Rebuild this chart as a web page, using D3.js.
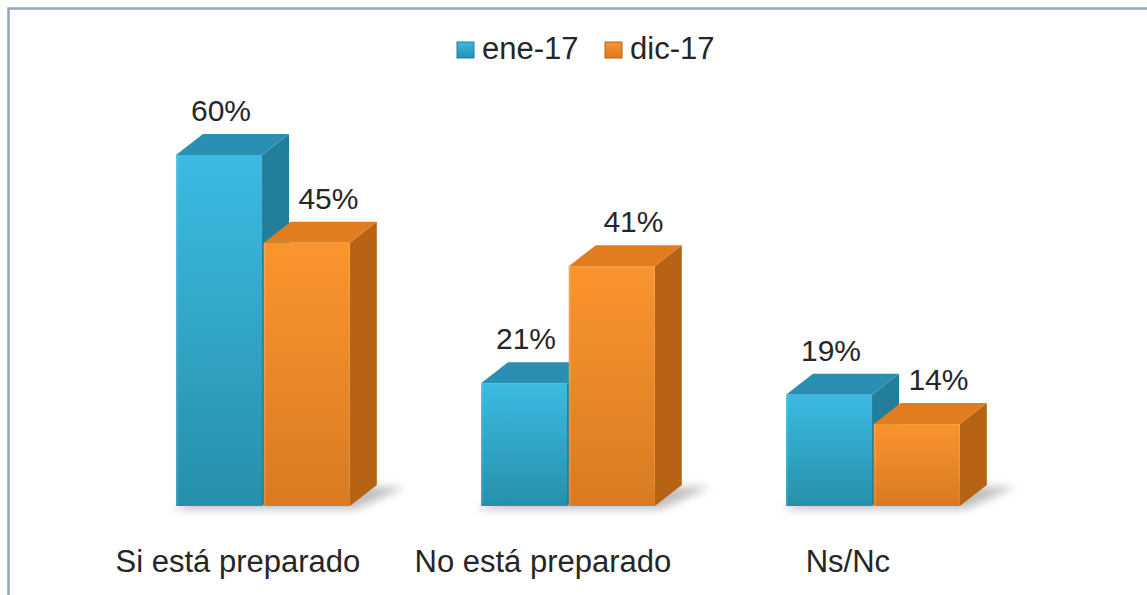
<!DOCTYPE html>
<html>
<head>
<meta charset="utf-8">
<script src="https://cdn.jsdelivr.net/npm/d3@7"></script>
<style>
  html, body { margin: 0; padding: 0; background: #fff; }
  text { font-family: Arial, "Liberation Sans", sans-serif; fill: #262626; }
</style>
</head>
<body>
<svg id="chart"></svg>
<script>
// chart data
var categories = ["Si está preparado", "No está preparado", "Ns/Nc"];
var seriesNames = ["ene-17", "dic-17"];
var ene17 = [60, 21, 19];
var dic17 = [45, 41, 14];

var width = 1147, height = 595;
var depthX = 27, depthY = 21;

var palette = {
  "ene-17": {top: "#2b8fb3", side: "#237e9c", front0: "#3cbae2", front1: "#2690ab"},
  "dic-17": {top: "#e27d1f", side: "#b66314", front0: "#fa942f", front1: "#d97a22"}
};

var svg = d3.select("#chart")
            .attr("width", width)
            .attr("height", height);

var defs = svg.append("defs");

seriesNames.forEach(function(s, i) {
  var g = defs.append("linearGradient")
              .attr("id", "grad" + i)
              .attr("x1", 0).attr("y1", 0).attr("x2", 0).attr("y2", 1);
  g.append("stop").attr("offset", "0%").attr("stop-color", palette[s].front0);
  g.append("stop").attr("offset", "100%").attr("stop-color", palette[s].front1);
});

defs.append("filter")
    .attr("id", "soft")
    .attr("x", "-20%").attr("y", "-50%").attr("width", "140%").attr("height", "200%")
    .append("feGaussianBlur")
    .attr("stdDeviation", 4);

// outer frame (runs off the right and bottom edge)
svg.append("rect")
   .attr("x", 8.5)
   .attr("y", 8.5)
   .attr("width", 1300)
   .attr("height", 800)
   .attr("fill", "none")
   .attr("stroke", "#94a5c0")
   .attr("stroke-width", 2.5);

var x = d3.scaleBand()
          .domain(categories)
          .range([110.4, 1025.4])
          .paddingInner(0.43)
          .paddingOuter(0.215);

var xs = d3.scaleBand()
           .domain(seriesNames)
           .range([0, x.bandwidth()])
           .paddingInner(0.02);

var y = d3.scaleLinear()
          .domain([0, 70])
          .range([506, 96.5]);

var rows = [];
categories.forEach(function(c, i) {
  rows.push({cat: c, series: "ene-17", idx: 0, value: ene17[i]});
  rows.push({cat: c, series: "dic-17", idx: 1, value: dic17[i]});
});

// floor shadow under each group
svg.selectAll(".shadow")
   .data(categories)
   .enter().append("polygon")
   .attr("class", "shadow")
   .attr("filter", "url(#soft)")
   .attr("fill", "#8a8a8a")
   .attr("opacity", 0.55)
   .attr("points", function(c) {
     var x0 = x(c) - 4, x1 = x(c) + x.bandwidth() + 6, yb = y(0);
     return [[x0, yb + 3], [x1, yb + 3], [x1 + depthX + 22, yb - depthY + 2], [x0 + depthX + 20, yb - depthY + 2]].join(" ");
   });

var bars = svg.selectAll(".bar")
              .data(rows)
              .enter().append("g")
              .attr("class", "bar");

bars.each(function(d) {
  var g = d3.select(this);
  var x0 = x(d.cat) + xs(d.series),
      x1 = x0 + xs.bandwidth(),
      yt = y(d.value),
      yb = y(0);

  g.append("polygon")
   .attr("fill", palette[d.series].side)
   .attr("points", [[x1, yt], [x1 + depthX, yt - depthY], [x1 + depthX, yb - depthY], [x1, yb]].join(" "));

  g.append("polygon")
   .attr("fill", palette[d.series].top)
   .attr("points", [[x0, yt], [x0 + depthX, yt - depthY], [x1 + depthX, yt - depthY], [x1, yt]].join(" "));

  g.append("rect")
   .attr("x", x0)
   .attr("y", yt)
   .attr("width", x1 - x0)
   .attr("height", yb - yt)
   .attr("fill", "url(#grad" + d.idx + ")");

  // thin highlight along the left edge of the front face
  g.append("rect")
   .attr("x", x0)
   .attr("y", yt)
   .attr("width", 2)
   .attr("height", yb - yt)
   .attr("fill", "#fff")
   .attr("opacity", 0.12);
});

// value labels
svg.selectAll(".value")
   .data(rows)
   .enter().append("text")
   .attr("class", "value")
   .attr("text-anchor", "middle")
   .attr("font-size", 30)
   .attr("x", function(d) {
     var cx = x(d.cat) + xs(d.series) + xs.bandwidth() / 2;
     return d.idx === 0 ? cx + 2 : cx + depthX * 0.8;
   })
   .attr("y", function(d) { return y(d.value) - depthY - 13; })
   .text(function(d) { return d.value + "%"; });

// category labels
svg.selectAll(".cat")
   .data(categories)
   .enter().append("text")
   .attr("class", "cat")
   .attr("text-anchor", "middle")
   .attr("font-size", 31)
   .attr("x", function(c) { return x(c) + x.bandwidth() / 2 - 25; })
   .attr("y", 572)
   .text(function(c) { return c; });

// legend
var legend = svg.append("g")
                .attr("transform", "translate(457,42)");

var item = legend.selectAll(".item")
                 .data(seriesNames)
                 .enter().append("g")
                 .attr("class", "item")
                 .attr("transform", function(d, i) { return "translate(" + i * 148 + ",0)"; });

item.append("rect")
    .attr("width", 17)
    .attr("height", 16)
    .attr("fill", function(d, i) { return "url(#grad" + i + ")"; })
    .attr("stroke", function(d) { return palette[d].side; })
    .attr("stroke-width", 1);

item.append("text")
    .attr("x", 25)
    .attr("y", 17)
    .attr("font-size", 31)
    .text(function(d) { return d; });
</script>
</body>
</html>
